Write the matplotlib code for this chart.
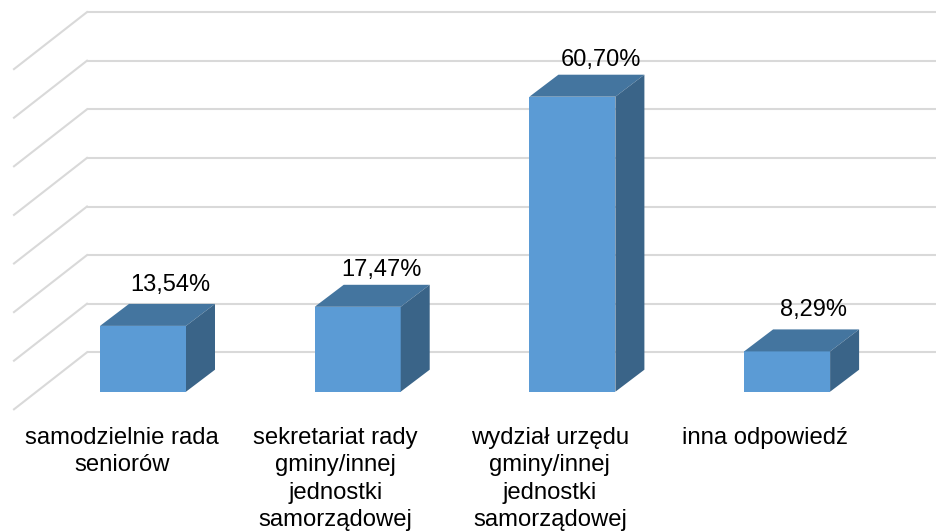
import matplotlib
matplotlib.use("Agg")
import matplotlib.pyplot as plt
from matplotlib.patches import Polygon

plt.rcParams["font.family"] = ["Liberation Sans", "DejaVu Sans"]

categories = [
    "samodzielnie rada\nseniorów",
    "sekretariat rady\ngminy/innej\njednostki\nsamorządowej",
    "wydział urzędu\ngminy/innej\njednostki\nsamorządowej",
    "inna odpowiedź",
]
values = [13.54, 17.47, 60.70, 8.29]
value_labels = ["13,54%", "17,47%", "60,70%", "8,29%"]
grid_values = [0, 10, 20, 30, 40, 50, 60, 70]

W, H = 937, 531
PX_PER_UNIT = 4.86     # pixels per 1 %
PX_PER_CAT = 214.7     # pixels between bars
X0_PX, Y0_PX = 143, 391.7

# label nudges in pixels, the original placement is not quite regular
VALUE_DX = [27, 24, 29, 26]
VALUE_DY = [8, 4, 4, 8]
CAT_DX = [-21, -22.5, -22.5, -22]


def px_w(p):
    return p / PX_PER_CAT


def px_h(p):
    return p / PX_PER_UNIT


fig = plt.figure(figsize=(W / 100, H / 100), dpi=100)
fig.patch.set_facecolor("white")
ax = fig.add_axes([0, 0, 1, 1])
ax.set_xlim(-px_w(X0_PX), px_w(W - X0_PX))
ax.set_ylim(-px_h(H - Y0_PX), px_h(Y0_PX))
ax.axis("off")

# walls: back gridlines and the slanted side lines
back_x0 = px_w(87 - X0_PX)
back_x1 = px_w(W - X0_PX)
front_x = px_w(14 - X0_PX)
back_dy = px_h(Y0_PX - 352.3)
slant_dy = px_h(57)
for g in grid_values:
    y = g + back_dy
    ax.plot([back_x0, back_x1], [y, y], color="#D9D9D9", lw=1.5, zorder=1, solid_capstyle="butt")
    ax.plot([front_x, back_x0], [y - slant_dy, y], color="#D9D9D9", lw=1.5, zorder=1)

# bars as three faces
half = px_w(43)
dx = px_w(29)
dy = px_h(22)
for i, v in enumerate(values):
    l, r = i - half, i + half
    ax.bar(i, v, width=2 * half, color="#5B9BD5", zorder=3)
    ax.add_patch(Polygon([(l, v), (r, v), (r + dx, v + dy), (l + dx, v + dy)],
                         closed=True, facecolor="#44759F", edgecolor="none", zorder=3))
    ax.add_patch(Polygon([(r, 0), (r + dx, dy), (r + dx, v + dy), (r, v)],
                         closed=True, facecolor="#3A6488", edgecolor="none", zorder=3))
    ax.text(i + px_w(VALUE_DX[i]), v + dy + px_h(VALUE_DY[i]), value_labels[i], ha="center", va="bottom",
            fontsize=17, color="#000000", zorder=4)
    ax.text(i + px_w(CAT_DX[i]), px_h(Y0_PX - 427), categories[i], ha="center", va="top",
            fontsize=17.2, color="#000000", linespacing=1.31, zorder=4)

fig.savefig("out.png", dpi=100, facecolor="white")
